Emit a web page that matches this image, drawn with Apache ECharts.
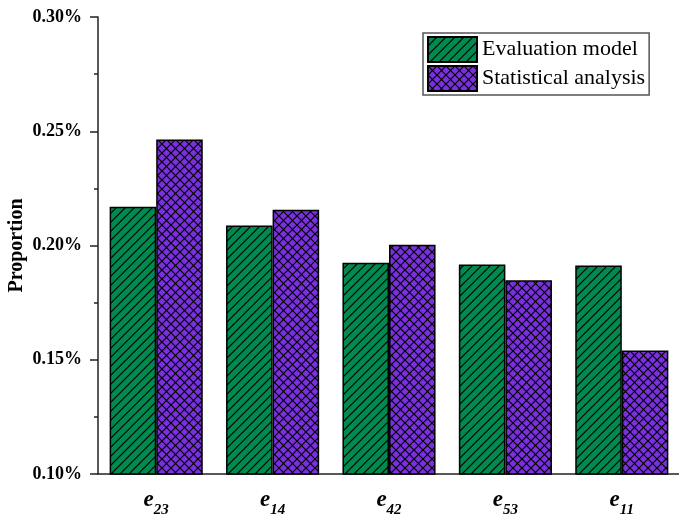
<!DOCTYPE html>
<html>
<head>
<meta charset="utf-8">
<script src="https://cdn.jsdelivr.net/npm/echarts@6/dist/echarts.min.js"></script>
<style>
  html, body { margin: 0; padding: 0; background: #fff; }
  #chart { width: 679px; height: 515px; }
</style>
</head>
<body>
<div id="chart"></div>
<script>
// Indicator labels (subscripts of e) and proportions in percent
const categories = ['23', '14', '42', '53', '11'];
const evaluationModel = [0.217, 0.2088, 0.1925, 0.1917, 0.1912];
const statisticalAnalysis = [0.2464, 0.2157, 0.2003, 0.1848, 0.1541];
const seriesNames = ['Evaluation model', 'Statistical analysis'];
const yTicks = { min: 0.10, max: 0.30, step: 0.05 };

// Hatched fill tiles
function hatchTile(bg, size, cross) {
  const c = document.createElement('canvas');
  c.width = size; c.height = size;
  const g = c.getContext('2d');
  g.fillStyle = bg;
  g.fillRect(0, 0, size, size);
  g.strokeStyle = '#000';
  g.lineWidth = 1.2;
  for (let k = -1; k <= 1; k++) {
    const o = k * size;
    g.beginPath();
    g.moveTo(o - 1, size + 1);
    g.lineTo(o + size + 1, -1);
    g.stroke();
    if (cross) {
      g.beginPath();
      g.moveTo(o - 1, -1);
      g.lineTo(o + size + 1, size + 1);
      g.stroke();
    }
  }
  return { image: c, repeat: 'repeat' };
}

const greenFill = hatchTile('#008a4f', 9, false);
const purpleFill = hatchTile('#7a30de', 9, true);

const serif = '"Liberation Serif", "Times New Roman", serif';
const chart = echarts.init(document.getElementById('chart'), null, { renderer: 'canvas' });

chart.setOption({
  animation: false,
  backgroundColor: '#fff',
  grid: { left: 98, top: 17, bottom: 41, width: 582, containLabel: false, outerBoundsMode: 'none' },
  legend: {
    left: 423, top: 33,
    orient: 'vertical',
    icon: 'rect',
    itemWidth: 49, itemHeight: 25, itemGap: 2,
    padding: [3, 4, 3, 4],
    borderColor: '#555', borderWidth: 1.5,
    backgroundColor: '#fff',
    textStyle: { fontFamily: serif, fontSize: 22, color: '#000' },
    data: seriesNames
  },
  xAxis: [{
    type: 'category',
    data: categories,
    axisLine: { lineStyle: { color: '#222', width: 1.5 } },
    axisTick: { alignWithLabel: true, length: 8, lineStyle: { color: '#222', width: 1.5 } },
    axisLabel: {
      margin: 15,
      formatter: v => '{e|e}{s|' + v + '}',
      rich: {
        e: { fontFamily: serif, fontSize: 23, fontWeight: 'bold', fontStyle: 'italic', color: '#000', verticalAlign: 'top', padding: [0, 0, 6, 0] },
        s: { fontFamily: serif, fontSize: 15, fontWeight: 'bold', fontStyle: 'italic', color: '#000', verticalAlign: 'bottom' }
      }
    }
  }, {
    type: 'category',
    data: categories,
    position: 'bottom',
    axisLine: { show: false },
    axisTick: { length: 4, lineStyle: { color: '#222', width: 1.5 } },
    axisLabel: { show: false }
  }],
  yAxis: {
    type: 'value',
    min: yTicks.min, max: yTicks.max, interval: yTicks.step,
    name: 'Proportion',
    nameLocation: 'middle',
    nameGap: 71,
    nameMoveOverlap: false,
    nameRotate: 90,
    nameTextStyle: { fontFamily: serif, fontSize: 20, fontWeight: 'bold', color: '#000' },
    axisLine: { show: true, lineStyle: { color: '#222', width: 1.5 } },
    axisTick: { show: true, length: 8, lineStyle: { color: '#222', width: 1.5 } },
    minorTick: { show: true, splitNumber: 2, length: 4, lineStyle: { color: '#222', width: 1.5 } },
    splitLine: { show: false },
    axisLabel: {
      margin: 16,
      fontFamily: serif, fontSize: 18, fontWeight: 'bold', color: '#000',
      formatter: v => v.toFixed(2) + '%'
    }
  },
  series: [{
    name: seriesNames[0],
    type: 'bar',
    data: evaluationModel,
    barGap: '0%',
    barCategoryGap: '20%',
    itemStyle: { color: greenFill, borderColor: '#000', borderWidth: 1.5 }
  }, {
    name: seriesNames[1],
    type: 'bar',
    data: statisticalAnalysis,
    barGap: '0%',
    barCategoryGap: '20%',
    itemStyle: { color: purpleFill, borderColor: '#000', borderWidth: 1.5 }
  }]
});
</script>
</body>
</html>
